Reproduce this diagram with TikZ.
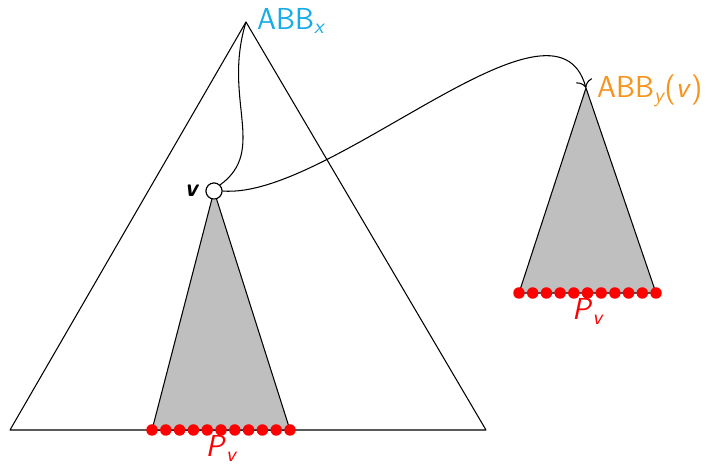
\documentclass[tikz,border=0pt]{standalone}
\usepackage{tikz}
\usetikzlibrary{arrows.meta,calc,positioning}
\definecolor{abbblue}{RGB}{22,172,232}
\definecolor{abborange}{RGB}{247,148,30}
\tikzset{
  tree/.style={draw=black, line width=0.6pt, line join=round},
  subtree/.style={draw=black, fill=black!25, line width=0.6pt, line join=round},
  vert/.style={circle, draw=black, fill=white, line width=0.6pt, minimum size=3.2mm, inner sep=0pt},
  leaf/.style={circle, fill=red, minimum size=2.3mm, inner sep=0pt},
  link/.style={-{To[length=1.6mm]}, line width=0.6pt},
  lbl/.style={font=\sffamily\LARGE, inner sep=0.5pt}
}

\begin{document}
\begin{tikzpicture}[x=0.02cm, y=-0.02cm]
  \useasboundingbox (0,0) rectangle (711,465);

  % big tree
  \coordinate (top) at (246,22);
  \coordinate (bl) at (10,430);
  \coordinate (br) at (486,430);
  \draw[tree] (top) -- (bl) -- (br) -- cycle;

  % subtree of v
  \node[vert] (v) at (214,191) {};
  \coordinate (sl) at (152,430);
  \coordinate (sr) at (290,430);
  \draw[subtree] (v.center) -- (sl) -- (sr) -- cycle;

  % copy in the y-structure
  \coordinate (ytop) at (586,88);
  \coordinate (yl) at (519,293);
  \coordinate (yr) at (656,293);
  \draw[subtree] (ytop) -- (yl) -- (yr) -- cycle;

  % links
  \draw[tree] (top) .. controls (222,100) and (268,150) .. (v.north east);
  \draw[link] (v.east) .. controls (330,200) and (555,-25) .. (ytop);
  \node[vert] at (v) {};

  % leaves
  \foreach \i in {0,...,10} {
    \node[leaf] (p\i) at ($(sl)!\i/10!(sr)$) {};
    \node[leaf] (q\i) at ($(yl)!\i/10!(yr)$) {};
  }

  % labels
  \node[lbl, text=abbblue, anchor=west] (abbx) at (256,21) {ABB\textsubscript{\itshape x}};
  \node[lbl, text=abborange, anchor=west] (abby) at (596,91) {ABB\textsubscript{\itshape y}(\textit{v})};
  \node[font=\sffamily\Large\bfseries\itshape, left=1pt of v] (vlbl) {v};
  \node[lbl, text=red, text depth=0pt, below=-1pt of p5] (pv1) {\textit{P}\textsubscript{\itshape v}};
  \node[lbl, text=red, text depth=0pt, below=-1pt of q5] (pv2) {\textit{P}\textsubscript{\itshape v}};
\end{tikzpicture}
\end{document}
